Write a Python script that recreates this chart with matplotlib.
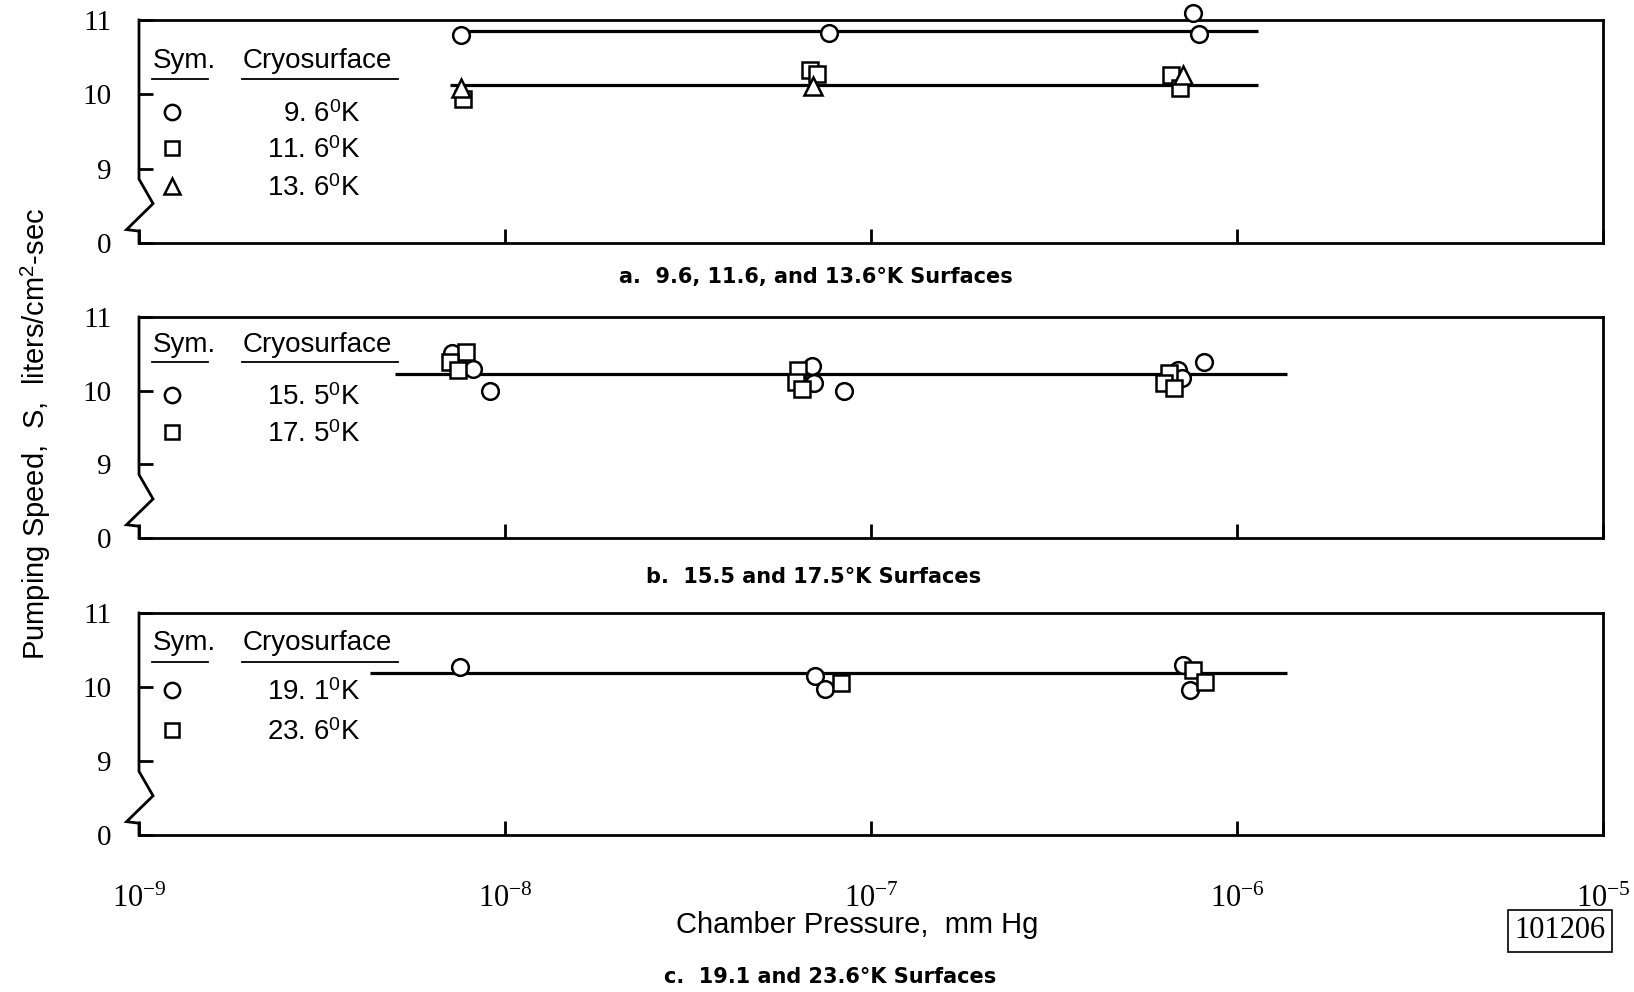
import matplotlib
matplotlib.use("Agg")
import matplotlib.pyplot as plt

W, H = 1634, 992

# ---------------- data ----------------
# Panel a: 9.6, 11.6, 13.6 K
a_circle_p = [7.59e-9, 7.67e-8, 7.57e-7, 7.85e-7]
a_circle_s = [10.80, 10.83, 11.09, 10.81]
a_square_p = [7.67e-9, 6.81e-8, 7.10e-8, 6.62e-7, 7.00e-7]
a_square_s = [9.94, 10.33, 10.28, 10.26, 10.08]
a_tri_p = [7.59e-9, 6.95e-8, 7.14e-7]
a_tri_s = [10.08, 10.11, 10.26]
a_fit1_p = [7.6e-9, 1.14e-6]
a_fit1_s = [10.85, 10.85]
a_fit2_p = [7.06e-9, 1.14e-6]
a_fit2_s = [10.13, 10.13]

# Panel b: 15.5, 17.5 K
b_circle_p = [7.18e-9, 8.17e-9, 9.08e-9, 6.92e-8, 7.00e-8, 8.43e-8, 6.92e-7, 7.06e-7, 8.11e-7]
b_circle_s = [10.51, 10.29, 10.00, 10.33, 10.11, 10.00, 10.28, 10.17, 10.39]
b_square_p = [7.83e-9, 7.06e-9, 7.43e-9, 6.30e-8, 6.22e-8, 6.49e-8, 6.50e-7, 6.31e-7, 6.71e-7]
b_square_s = [10.53, 10.39, 10.28, 10.28, 10.12, 10.02, 10.24, 10.11, 10.03]
b_fit_p = [5.0e-9, 1.37e-6]
b_fit_s = [10.22, 10.22]

# Panel c: 19.1, 23.6 K
c_circle_p = [7.55e-9, 7.03e-8, 7.48e-8, 7.14e-7, 7.45e-7]
c_circle_s = [10.27, 10.15, 9.97, 10.30, 9.96]
c_square_p = [8.26e-8, 7.60e-7, 8.18e-7]
c_square_s = [10.05, 10.23, 10.07]
c_fit_p = [4.27e-9, 1.37e-6]
c_fit_s = [10.19, 10.19]

y_ticks = [8, 9, 10, 11]
y_ticklabels = ["0", "9", "10", "11"]
x_ticks = [1e-9, 1e-8, 1e-7, 1e-6, 1e-5]
x_ticklabels = [r"$10^{-9}$", r"$10^{-8}$", r"$10^{-7}$", r"$10^{-6}$", r"$10^{-5}$"]

legend_a = [("o", r"9. 6$^{\mathsf{0}}$K"), ("s", r"11. 6$^{\mathsf{0}}$K"), ("^", r"13. 6$^{\mathsf{0}}$K")]
legend_b = [("o", r"15. 5$^{\mathsf{0}}$K"), ("s", r"17. 5$^{\mathsf{0}}$K")]
legend_c = [("o", r"19. 1$^{\mathsf{0}}$K"), ("s", r"23. 6$^{\mathsf{0}}$K")]

subtitles = ["a.  9.6, 11.6, and 13.6\u00b0K Surfaces",
             "b.  15.5 and 17.5\u00b0K Surfaces",
             "c.  19.1 and 23.6\u00b0K Surfaces"]

# ---------------- style ----------------
plt.rcParams["mathtext.fontset"] = "custom"
plt.rcParams["mathtext.rm"] = "Liberation Serif"
plt.rcParams["mathtext.it"] = "Liberation Serif:italic"
plt.rcParams["mathtext.bf"] = "Liberation Serif:bold"
plt.rcParams["mathtext.sf"] = "Liberation Sans"
SANS = ["Liberation Sans", "DejaVu Sans"]
SERIF = ["Liberation Serif", "DejaVu Serif"]
LW = 2.0

fig = plt.figure(figsize=(W / 100, H / 100), dpi=100)


def fx(x):
    return x / W


def fy(y):
    return 1 - y / H


panel_px = [(20, 243), (317, 538), (613, 835)]
left_px, right_px = 139, 1603
axes = []
for top, bot in panel_px:
    ax = fig.add_axes([fx(left_px), fy(bot), (right_px - left_px) / W, (bot - top) / H])
    axes.append(ax)

mk = dict(linestyle="none", markerfacecolor="white", markeredgecolor="black",
          markeredgewidth=1.8, clip_on=False, zorder=5)
MS = {"o": 12, "s": 11, "^": 13}

series = [
    [("o", a_circle_p, a_circle_s), ("s", a_square_p, a_square_s), ("^", a_tri_p, a_tri_s)],
    [("o", b_circle_p, b_circle_s), ("s", b_square_p, b_square_s)],
    [("o", c_circle_p, c_circle_s), ("s", c_square_p, c_square_s)],
]
fits = [[(a_fit1_p, a_fit1_s), (a_fit2_p, a_fit2_s)],
        [(b_fit_p, b_fit_s)],
        [(c_fit_p, c_fit_s)]]

for i, ax in enumerate(axes):
    ax.set_xscale("log")
    ax.set_xlim(1e-9, 1e-5)
    ax.set_ylim(8, 11)
    for p, s in fits[i]:
        ax.plot(p, s, color="black", lw=2.3, zorder=3, solid_capstyle="butt")
    for m, p, s in series[i]:
        ax.plot(p, s, marker=m, markersize=MS[m], **mk)
    for side in ["top", "right", "bottom"]:
        ax.spines[side].set_linewidth(LW)
        ax.spines[side].set_zorder(2)
    ax.spines["left"].set_visible(False)
    # left spine with axis-break zigzag
    tr = ax.get_yaxis_transform()
    zx = [0, 0, 0.0096, -0.0085, 0, 0]
    zy = [11, 8.86, 8.53, 8.18, 8.16, 8.0]
    ax.plot(zx, zy, color="black", lw=LW, transform=tr, clip_on=False,
            solid_joinstyle="miter", zorder=2)
    ax.set_yticks(y_ticks)
    ax.set_yticklabels(y_ticklabels, family=SERIF, fontsize=21)
    ax.set_xticks(x_ticks)
    ax.minorticks_off()
    ax.tick_params(axis="both", direction="in", length=10, width=2)
    ax.tick_params(axis="y", pad=20)
    if i == 2:
        ax.set_xticklabels(x_ticklabels, fontsize=22)
        ax.tick_params(axis="x", pad=35)
    else:
        ax.set_xticklabels([])
    ax.set_facecolor("none")

# legends (inside panels, drawn as text)
leg_layout = [
    dict(head=61, ul=79, rows=[112, 148, 186], items=legend_a),
    dict(head=345, ul=362, rows=[395, 432], items=legend_b),
    dict(head=643, ul=662, rows=[690, 730], items=legend_c),
]
for L in leg_layout:
    fig.text(fx(153), fy(L["head"]), "Sym.", family=SANS, fontsize=20, ha="left", va="center")
    fig.text(fx(243), fy(L["head"]), "Cryosurface", family=SANS, fontsize=20, ha="left", va="center")
    fig.add_artist(plt.Line2D([fx(152), fx(208)], [fy(L["ul"])] * 2, color="black", lw=1.3))
    fig.add_artist(plt.Line2D([fx(242), fx(398)], [fy(L["ul"])] * 2, color="black", lw=1.3))
    for yy, (m, lab) in zip(L["rows"], L["items"]):
        fig.add_artist(plt.Line2D([fx(172)], [fy(yy)], marker=m, markersize=MS[m] - 1,
                                  markerfacecolor="white", markeredgecolor="black",
                                  markeredgewidth=1.8, linestyle="none"))
        fig.text(fx(361), fy(yy + 3), lab, family=SANS, fontsize=20, ha="right", va="center")

# subtitles
for (x, y), t in zip([(816, 277), (814, 577), (830, 977)], subtitles):
    fig.text(fx(x), fy(y), t, fontsize=15, weight="bold", family="DejaVu Sans",
             ha="center", va="center")

fig.text(fx(857), fy(925), "Chamber Pressure,  mm Hg", family=SANS, fontsize=21,
         ha="center", va="center")
fig.text(fx(36), fy(434), r"Pumping Speed,  S,  liters/cm$^{\mathsf{2}}$-sec", family=SANS,
         fontsize=21, rotation=90, ha="center", va="center")
fig.text(fx(1560), fy(931), "101206", family=SERIF, fontsize=22, ha="center", va="center",
         bbox=dict(boxstyle="square,pad=0.2", fc="white", ec="black", lw=1.2))

fig.savefig("out.png", dpi=100, facecolor="white")
